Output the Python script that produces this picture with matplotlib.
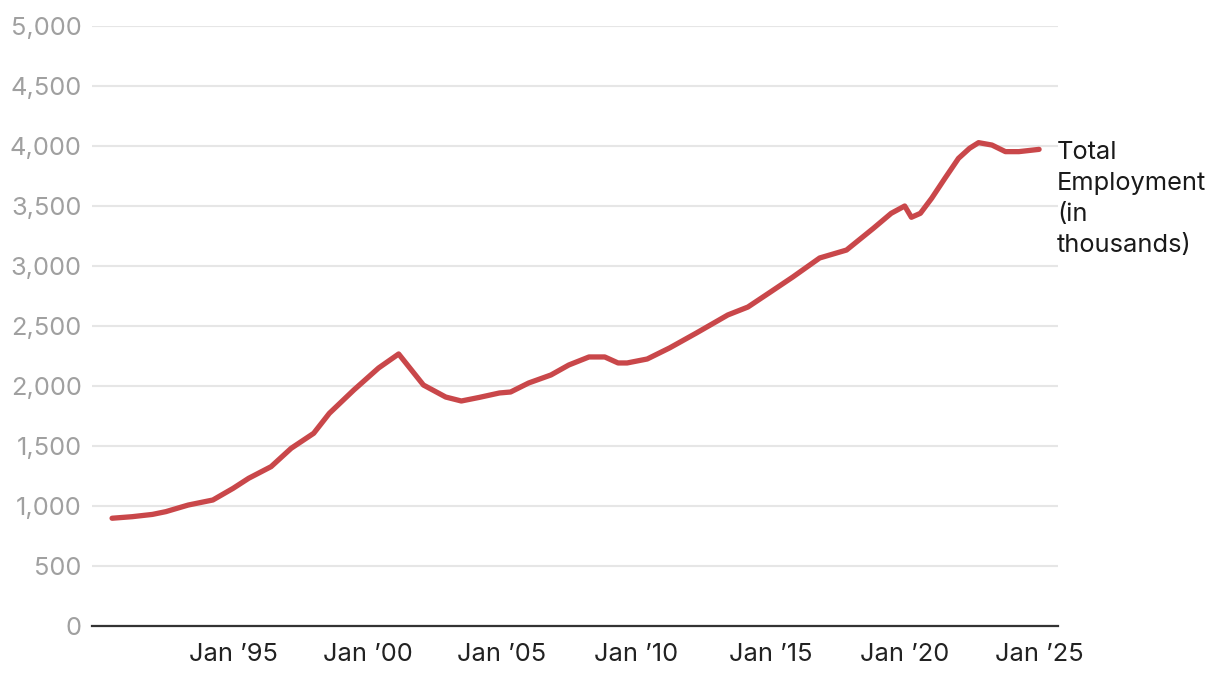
import pandas as pd
import matplotlib.pyplot as plt

plt.rcParams['font.family'] = ['Inter', 'DejaVu Sans']

# values (thousands)
months = ['1990-07', '1991-04', '1992-01', '1992-07', '1993-05', '1994-04',
          '1995-01', '1995-08', '1996-06', '1997-03', '1998-01', '1998-08',
          '1999-07', '2000-06', '2001-03', '2002-02', '2002-12', '2003-07',
          '2004-03', '2004-12', '2005-05', '2006-01', '2006-11', '2007-07',
          '2008-04', '2008-11', '2009-05', '2009-09', '2010-06', '2011-04',
          '2012-04', '2013-06', '2014-03', '2015-01', '2015-11', '2016-11',
          '2017-11', '2018-11', '2019-07', '2020-01', '2020-04', '2020-08',
          '2021-01', '2021-07', '2022-01', '2022-06', '2022-10', '2023-04',
          '2023-10', '2024-04', '2025-01']
employment = [898, 911, 930, 953, 1008, 1050,
              1147, 1231, 1328, 1481, 1606, 1772,
              1967, 2150, 2267, 2008, 1908, 1875,
              1905, 1942, 1950, 2025, 2092, 2175,
              2242, 2242, 2192, 2192, 2225, 2317,
              2442, 2592, 2658, 2783, 2908, 3067,
              3133, 3314, 3439, 3500, 3406, 3439,
              3564, 3731, 3897, 3981, 4028, 4008,
              3953, 3953, 3972]
tick_years = [1995, 2000, 2005, 2010, 2015, 2020, 2025]
y_ticks = list(range(0, 5001, 500))
series_label = 'Total\nEmployment\n(in\nthousands)'

dates = pd.to_datetime(months)

fig = plt.figure(figsize=(12.2, 6.8), dpi=100)
ax = fig.add_axes([92 / 1220, 54 / 680, 966 / 1220, 600 / 680])

ax.plot(dates, employment, color='#c9474a', lw=3.8, solid_capstyle='round',
        solid_joinstyle='round', zorder=3)

ax.set_ylim(0, 5000)
ax.set_yticks(y_ticks)
ax.set_yticklabels([f'{v:,}' for v in y_ticks])
ax.set_xlim(pd.Timestamp('1989-10-01'), pd.Timestamp('2025-09-15'))
ax.set_xticks([pd.Timestamp(f'{y}-01-01') for y in tick_years])
ax.set_xticklabels([f'Jan \u2019{str(y)[2:]}' for y in tick_years])

ax.grid(axis='y', color='#e6e6e6', lw=1.5)
ax.set_axisbelow(True)
for s in ['top', 'right', 'left']:
    ax.spines[s].set_visible(False)
ax.spines['bottom'].set_color('#333333')
ax.spines['bottom'].set_linewidth(1.6)
ax.spines['bottom'].set_zorder(4)

ax.tick_params(axis='y', length=0, pad=7.5, labelsize=18.3, labelcolor='#a0a0a0')
ax.tick_params(axis='x', length=0, pad=12, labelsize=18.3, labelcolor='#222222')

ax.annotate(series_label, xy=(dates[-1], employment[-1]), xytext=(13, 6),
            textcoords='offset points', ha='left', va='top', fontsize=18.3,
            color='#1a1a1a', linespacing=1.45, annotation_clip=False)

fig.savefig('out.png', dpi=100)
